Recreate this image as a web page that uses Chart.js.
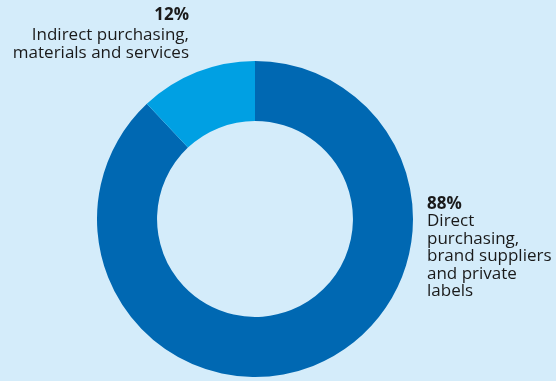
<!DOCTYPE html>
<html>
<head>
<meta charset="utf-8">
<script src="https://cdn.jsdelivr.net/npm/chart.js@4/dist/chart.umd.min.js"></script>
<style>
  html, body { margin: 0; padding: 0; background: #d4ecfa; }
  #wrap { width: 556px; height: 381px; position: relative; }
</style>
</head>
<body>
<div id="wrap"><canvas id="purchasingChart"></canvas></div>
<script>
// purchasing volume split
const categories = ['Direct purchasing, brand suppliers and private labels', 'Indirect purchasing, materials and services'];
const shares = [88, 12];
const colors = ['#0068b2', '#00a0e3'];
const labelLines = [
  ['Direct', 'purchasing,', 'brand suppliers', 'and private', 'labels'],
  ['Indirect purchasing,', 'materials and services']
];

const FONT = '"Open Sans", sans-serif';

// writes the percentage + description next to each slice
const sliceLabels = {
  id: 'sliceLabels',
  afterDraw(chart) {
    const ctx = chart.ctx;
    const arc = chart.getDatasetMeta(0).data[0];
    const cx = arc.x, cy = arc.y, r = arc.outerRadius;
    ctx.save();
    ctx.fillStyle = '#1a1a1a';
    ctx.textBaseline = 'alphabetic';

    // big slice: to the right of the ring
    let x = cx + r + 14, y = cy - 10;
    ctx.textAlign = 'left';
    ctx.font = 'bold 17px ' + FONT;
    ctx.fillText(shares[0] + '%', x, y);
    ctx.font = '17px ' + FONT;
    labelLines[0].forEach((line, i) => ctx.fillText(line, x, y + 17.4 * (i + 1)));

    // small slice: above left
    x = cx - r + 92; y = cy - 199.5;
    ctx.textAlign = 'right';
    ctx.font = 'bold 17px ' + FONT;
    ctx.fillText(shares[1] + '%', x, y);
    ctx.font = '17px ' + FONT;
    labelLines[1].forEach((line, i) => ctx.fillText(line, x, y + 1.5 + 18.5 * (i + 1)));
    ctx.restore();
  }
};

new Chart(document.getElementById('purchasingChart'), {
  type: 'doughnut',
  data: {
    labels: categories,
    datasets: [{
      data: shares,
      backgroundColor: colors,
      borderWidth: 0
    }]
  },
  options: {
    responsive: true,
    maintainAspectRatio: false,
    animation: false,
    cutout: '62%',
    layout: { padding: { top: 61, bottom: 4, left: 97, right: 143 } },
    plugins: {
      legend: { display: false },
      tooltip: { enabled: false }
    }
  },
  plugins: [sliceLabels]
});
</script>
</body>
</html>
